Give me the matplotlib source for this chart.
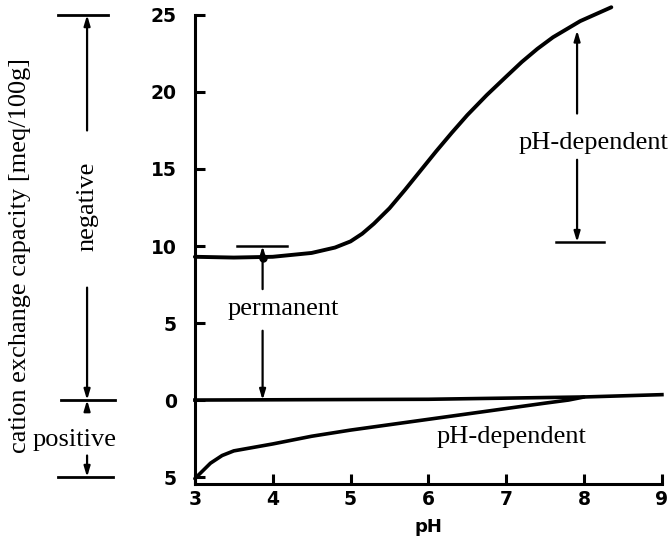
import matplotlib
matplotlib.use("Agg")
import matplotlib.pyplot as plt
from matplotlib.ticker import FixedLocator, FixedFormatter

ph_upper = [3.0, 3.5, 4.0, 4.5, 4.8, 5.0, 5.15, 5.3, 5.4, 5.5, 5.7, 5.9, 6.1, 6.3,
            6.5, 6.75, 7.0, 7.2, 7.4, 7.6, 7.8, 7.95, 8.15, 8.35]
cec_upper = [9.3, 9.25, 9.3, 9.55, 9.9, 10.3, 10.8, 11.45, 11.95, 12.45, 13.65, 14.9, 16.15, 17.35,
             18.5, 19.8, 21.0, 21.95, 22.8, 23.55, 24.15, 24.6, 25.05, 25.5]

ph_lower = [3.0, 3.1, 3.2, 3.35, 3.5, 4.0, 4.5, 5.0, 5.5, 6.0, 6.5, 7.0, 7.5, 7.8, 8.0]
cec_lower = [-5.1, -4.6, -4.1, -3.6, -3.3, -2.85, -2.35, -1.95, -1.6, -1.25, -0.9, -0.55, -0.2, 0.0, 0.2]

ph_zero = [3.0, 6.0, 8.0, 9.0]
cec_zero = [0.0, 0.05, 0.2, 0.35]

x_ticks = [3, 4, 5, 6, 7, 8, 9]
y_ticks = [25, 20, 15, 10, 5, 0, -5]
y_labels = ["25", "20", "15", "10", "5", "0", "5"]

serif = "Liberation Serif"
tick_font = dict(family="DejaVu Sans", weight="bold", size=13.5)

fig = plt.figure(figsize=(6.72, 5.49), dpi=100)
ax = fig.add_axes([0.290, 0.1184, 0.695, 0.874])

ax.plot(ph_upper, cec_upper, color="black", lw=2.8, clip_on=False, solid_capstyle="round")
ax.plot(ph_lower, cec_lower, color="black", lw=2.6, clip_on=False, solid_capstyle="round")
ax.plot(ph_zero, cec_zero, color="black", lw=2.6, clip_on=False)

ax.set_xlim(3, 9)
ax.set_ylim(-5.45, 25.7)
for s in ["top", "right"]:
    ax.spines[s].set_visible(False)
ax.spines["left"].set_bounds(-5.45, 25)
ax.spines["left"].set_linewidth(2.2)
ax.spines["bottom"].set_linewidth(2.2)

ax.xaxis.set_major_locator(FixedLocator(x_ticks))
ax.yaxis.set_major_locator(FixedLocator(y_ticks))
ax.yaxis.set_major_formatter(FixedFormatter(y_labels))
ax.tick_params(direction="in", length=7, width=2.2)
ax.tick_params(axis="y", pad=13)
ax.tick_params(axis="x", pad=4)
for lab in ax.get_xticklabels() + ax.get_yticklabels():
    lab.set_fontfamily(tick_font["family"])
    lab.set_fontweight(tick_font["weight"])
    lab.set_fontsize(tick_font["size"])

ax.set_xlabel("pH", fontfamily="DejaVu Sans", fontweight="bold", fontsize=13, labelpad=7)
fig.text(0.03, 0.535, "cation exchange capacity [meq/100g]", rotation=90,
         family=serif, fontsize=19, ha="center", va="center")

arrow = dict(arrowstyle="-|>,head_width=0.18,head_length=0.6", color="black", lw=1.6,
             shrinkA=0, shrinkB=0)


def bar(x0, x1, y, lw=2.0):
    ax.plot([x0, x1], [y, y], color="black", lw=lw, clip_on=False)


def arr(x, y_from, y_to):
    ax.annotate("", xy=(x, y_to), xytext=(x, y_from), arrowprops=arrow,
                annotation_clip=False)


# left side: negative / positive brackets
xl = 1.615
bar(1.24, 1.885, 25.0)
bar(1.28, 1.97, 0.0)
bar(1.24, 1.95, -5.0)
arr(xl, 17.5, 25.0)
arr(xl, 7.3, 0.0)
arr(xl, -0.7, 0.0)
arr(xl, -3.6, -5.0)
ax.text(xl, 12.6, "negative", rotation=90, family=serif, fontsize=19,
        ha="center", va="center", clip_on=False)
ax.text(1.45, -2.6, "positive", family=serif, fontsize=19,
        ha="center", va="center", clip_on=False)

# permanent charge
xp = 3.87
bar(3.54, 4.18, 10.0, lw=1.8)
arr(xp, 7.2, 10.0)
ax.plot([xp], [9.25], "o", color="black", ms=5)
arr(xp, 4.5, 0.0)
ax.text(4.13, 5.9, "permanent", family=serif, fontsize=19, ha="center", va="center")

# pH-dependent (negative)
xr = 7.91
arr(xr, 18.6, 24.0)
arr(xr, 15.6, 10.25)
bar(7.64, 8.26, 10.25, lw=1.8)
ax.text(8.12, 16.7, "pH-dependent", family=serif, fontsize=19, ha="center", va="center",
        clip_on=False)

# pH-dependent (positive)
ax.text(7.07, -2.4, "pH-dependent", family=serif, fontsize=19, ha="center", va="center")

fig.savefig("out.png", dpi=100)
